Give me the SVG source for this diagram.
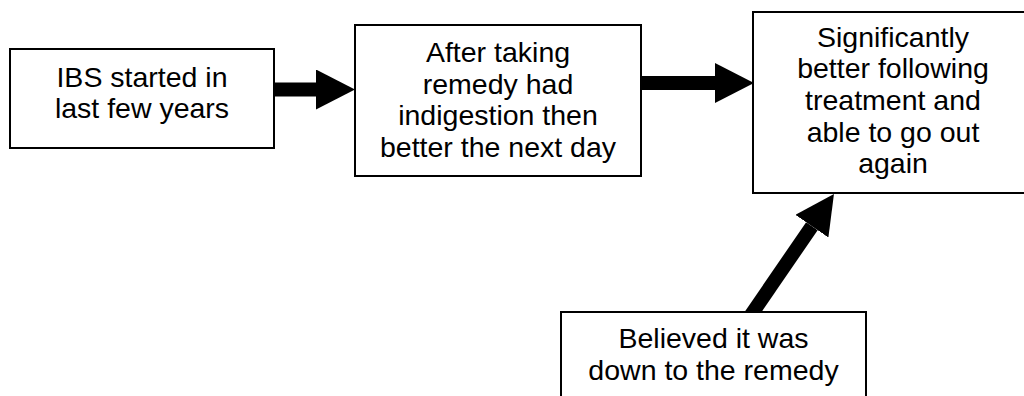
<svg xmlns="http://www.w3.org/2000/svg" width="1024" height="396" viewBox="0 0 1024 396">
  <style>
    .box { fill: #ffffff; stroke: #000000; stroke-width: 2; }
    .label { font-family: "Liberation Sans", Arial, sans-serif; font-size: 28.5px; fill: #000000; text-anchor: middle; }
    .link { stroke: #000000; stroke-width: 14; fill: none; marker-end: url(#head); }
  </style>
  <defs>
    <marker id="head" markerUnits="userSpaceOnUse" viewBox="0 0 39 40" refX="0" refY="20" markerWidth="39" markerHeight="40" orient="auto">
      <path d="M0,0 L39,20 L0,40 Z" fill="#000000"/>
    </marker>
  </defs>
  <rect width="1024" height="396" fill="#ffffff"/>

  <g id="connectors">
    <line class="link" x1="274" y1="89.5" x2="316" y2="89.5"/>
    <line class="link" x1="641" y1="83" x2="715" y2="83"/>
    <line class="link" x1="740" y1="331" x2="811.9" y2="226.2"/>
  </g>

  <g id="node-onset">
    <rect class="box" x="10" y="49" width="264" height="99"/>
    <text class="label" x="142" y="87">IBS started in</text>
    <text class="label" x="142" y="118">last few years</text>
  </g>

  <g id="node-remedy">
    <rect class="box" x="355" y="25" width="286" height="151"/>
    <text class="label" x="498" y="62">After taking</text>
    <text class="label" x="498" y="93.5">remedy had</text>
    <text class="label" x="498" y="125">indigestion then</text>
    <text class="label" x="498" y="156.5">better the next day</text>
  </g>

  <g id="node-outcome">
    <rect class="box" x="753" y="12" width="290" height="181"/>
    <text class="label" x="893" y="46.7">Significantly</text>
    <text class="label" x="893" y="78.3">better following</text>
    <text class="label" x="893" y="110">treatment and</text>
    <text class="label" x="893" y="141.7">able to go out</text>
    <text class="label" x="893" y="173.3">again</text>
  </g>

  <g id="node-belief">
    <rect class="box" x="561" y="312" width="305" height="100"/>
    <text class="label" x="713.5" y="348">Believed it was</text>
    <text class="label" x="713.5" y="380">down to the remedy</text>
  </g>
</svg>
